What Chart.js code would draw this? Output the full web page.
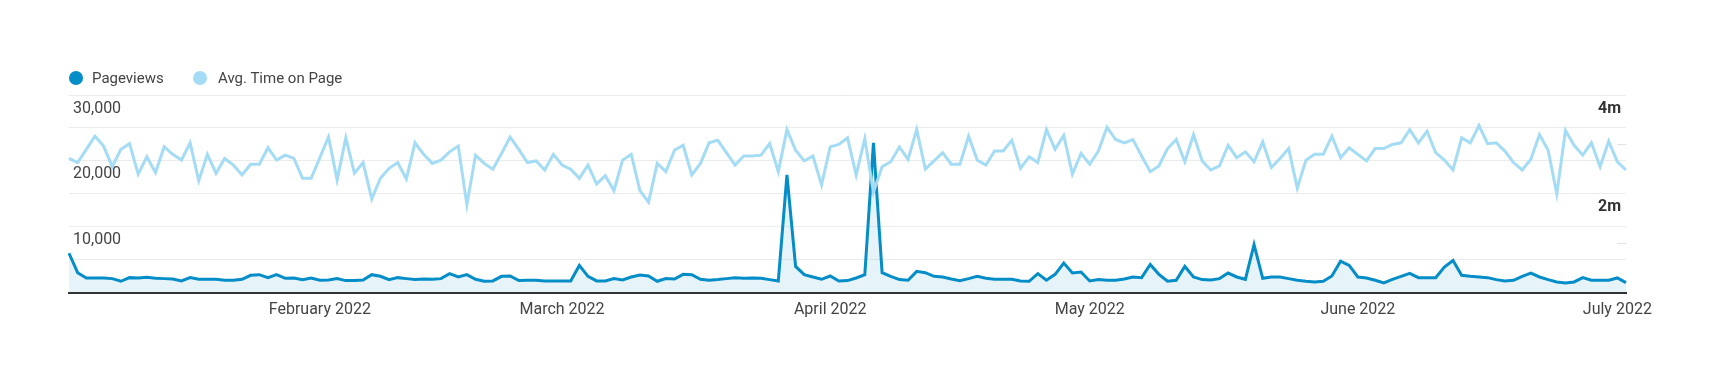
<!DOCTYPE html>
<html>
<head>
<meta charset="utf-8">
<script src="https://cdn.jsdelivr.net/npm/chart.js@4.4.1/dist/chart.umd.min.js"></script>
<style>
  html, body { margin: 0; padding: 0; background: #fff; }
  #wrap { position: relative; width: 1720px; height: 381px; }
  #legend { position: absolute; left: 0; top: 0; font-family: Roboto, Arial, sans-serif; font-size: 15px; color: #444; }
  .item { position: absolute; top: 68px; height: 20px; line-height: 20px; white-space: nowrap; }
  .dot { position: absolute; top: 3px; width: 14px; height: 14px; border-radius: 50%; }
  .lbl { position: absolute; top: 0; }
</style>
</head>
<body>
<div id="wrap">
  <canvas id="c" width="1720" height="381"></canvas>
  <div id="legend"></div>
</div>
<script>
// ---- data ----
const startDate = [2022, 0, 3]; // first day shown (Jan 3, 2022), one point per day
const seriesNames = ['Pageviews', 'Avg. Time on Page'];
const seriesColors = ['#058dc7', '#a3dcf4'];
const pageviews = [
  6000,3050,2250,2250,2250,2150,1750,2300,2250,2350,2200,2150,2100,1800,2300,2050,2050,2050,1900,1900,
  2050,2650,2750,2300,2750,2200,2250,2000,2250,1900,1950,2150,1850,1850,1950,2750,2500,2000,2300,2150,
  2000,2100,2050,2150,2900,2400,2750,2050,1750,1800,2500,2550,1850,1900,1900,1800,1800,1800,1800,4150,
  2500,1800,1800,2150,1950,2400,2700,2550,1750,2150,2100,2800,2750,2050,1900,2000,2150,2300,2200,2250,
  2200,2000,1800,17900,4000,2750,2400,2050,2550,1800,1850,2250,2750,22750,3050,2500,2000,1900,3250,3050,
  2500,2400,2100,1850,2150,2500,2200,2050,2050,2050,1800,1750,2900,1900,2800,4500,3000,3150,1800,2000,
  1900,1900,2100,2400,2300,4300,2800,1750,1900,4000,2400,2000,1950,2150,3000,2400,2050,7300,2200,2400,
  2400,2150,1900,1750,1650,1750,2550,4800,4150,2400,2250,1900,1500,2050,2500,2950,2300,2300,2300,3900,
  4900,2650,2500,2400,2300,2000,1800,1900,2500,3000,2400,2000,1650,1500,1650,2300,1900,1900,1900,2250,
  1550
];
// Avg. Time on Page, in seconds
const avgTimeSec = [
  163,158,174,190,178,153,174,181,144,165,146,177,168,161,182,136,168,145,163,155,
  143,156,156,176,161,167,163,139,139,164,189,137,188,145,158,114,139,151,158,138,
  182,168,157,161,171,178,107,167,157,150,169,189,174,158,160,149,168,155,150,139,
  155,132,142,124,161,168,124,110,157,147,173,179,143,157,182,185,170,155,166,166,
  167,181,147,198,173,160,166,131,177,180,188,143,187,122,153,159,177,162,198,150,
  160,170,156,156,190,161,155,172,172,185,151,165,158,198,174,191,144,169,156,172,
  201,186,182,186,166,147,154,175,186,159,192,160,149,154,179,164,171,159,183,152,
  163,175,127,161,168,168,190,164,176,168,160,175,175,180,182,198,182,196,170,161,
  149,188,182,203,181,182,172,158,149,162,192,173,120,197,179,167,182,153,184,159,
  149
];
const monthTickLabels = ['January 2022','February 2022','March 2022','April 2022','May 2022','June 2022','July 2022'];
const leftAxisLabels = { 10000: '10,000', 20000: '20,000', 30000: '30,000' };
const rightAxisLabels = { 120: '2m', 240: '4m' };

// categories (one per day)
const categories = pageviews.map((_, i) => {
  const d = new Date(Date.UTC(startDate[0], startDate[1], startDate[2] + i));
  return d.toISOString().slice(0, 10);
});

// ---- legend (HTML) ----
const legendPos = [{ dot: 69, text: 92 }, { dot: 193, text: 218 }];
const legendEl = document.getElementById('legend');
seriesNames.forEach((name, i) => {
  const it = document.createElement('div');
  it.className = 'item';
  it.style.left = '0px';
  const dot = document.createElement('div');
  dot.className = 'dot';
  dot.style.left = legendPos[i].dot + 'px';
  dot.style.background = seriesColors[i];
  const lbl = document.createElement('div');
  lbl.className = 'lbl';
  lbl.style.left = legendPos[i].text + 'px';
  lbl.textContent = name;
  it.appendChild(dot); it.appendChild(lbl);
  legendEl.appendChild(it);
});

// short inner tick marks for the right (time) axis
const rightTickMarks = {
  id: 'rightTickMarks',
  afterDatasetsDraw(chart) {
    const s = chart.scales.yTime, a = chart.chartArea, ctx = chart.ctx;
    ctx.save();
    ctx.strokeStyle = '#e2e2e2';
    ctx.lineWidth = 1;
    [60, 180].forEach(v => {
      const y = Math.round(s.getPixelForValue(v)) + 0.5;
      ctx.beginPath(); ctx.moveTo(a.right - 9, y); ctx.lineTo(a.right, y); ctx.stroke();
    });
    ctx.restore();
  }
};

const FONT = 'Roboto, Arial, sans-serif';
new Chart(document.getElementById('c'), {
  type: 'line',
  data: {
    labels: categories,
    datasets: [
      {
        label: seriesNames[0], data: pageviews, yAxisID: 'yViews', order: 1,
        borderColor: seriesColors[0], borderWidth: 3, pointRadius: 0, tension: 0,
        fill: 'origin', backgroundColor: 'rgba(5,141,199,0.10)'
      },
      {
        label: seriesNames[1], data: avgTimeSec, yAxisID: 'yTime', order: 0,
        borderColor: seriesColors[1], borderWidth: 3, pointRadius: 0, tension: 0, fill: false
      }
    ]
  },
  options: {
    responsive: false,
    animation: false,
    devicePixelRatio: 1,
    layout: { padding: { top: 95, left: 61, right: 94, bottom: 53 } },
    plugins: { legend: { display: false }, tooltip: { enabled: false } },
    scales: {
      x: {
        type: 'category',
        grid: { display: false, drawTicks: false },
        border: { display: true, color: '#333', width: 2 },
        ticks: {
          autoSkip: false, maxRotation: 0, minRotation: 0, padding: 8,
          color: '#444', font: { family: FONT, size: 16 },
          callback: function (val, idx) {
            const c = categories[idx];
            if (c && c.endsWith('-01')) return monthTickLabels[parseInt(c.slice(5, 7), 10) - 1];
            return null;
          }
        }
      },
      yViews: {
        position: 'left', min: 0, max: 30000,
        grid: { color: '#ececec', drawTicks: false, lineWidth: 1 },
        border: { display: false },
        ticks: {
          stepSize: 5000, mirror: true, padding: 4, labelOffset: 13.5,
          color: '#444', font: { family: FONT, size: 16 },
          callback: v => leftAxisLabels[v] || ''
        }
      },
      yTime: {
        position: 'right', min: 0, max: 240,
        grid: { drawOnChartArea: false, drawTicks: false },
        border: { display: false },
        afterFit: s => { s.width = 0; },
        ticks: {
          stepSize: 60, mirror: true, padding: -5, labelOffset: 13.5,
          color: '#333', font: { family: FONT, size: 16, weight: 'bold' },
          callback: v => rightAxisLabels[v] || ''
        }
      }
    }
  },
  plugins: [rightTickMarks]
});
</script>
</body>
</html>
